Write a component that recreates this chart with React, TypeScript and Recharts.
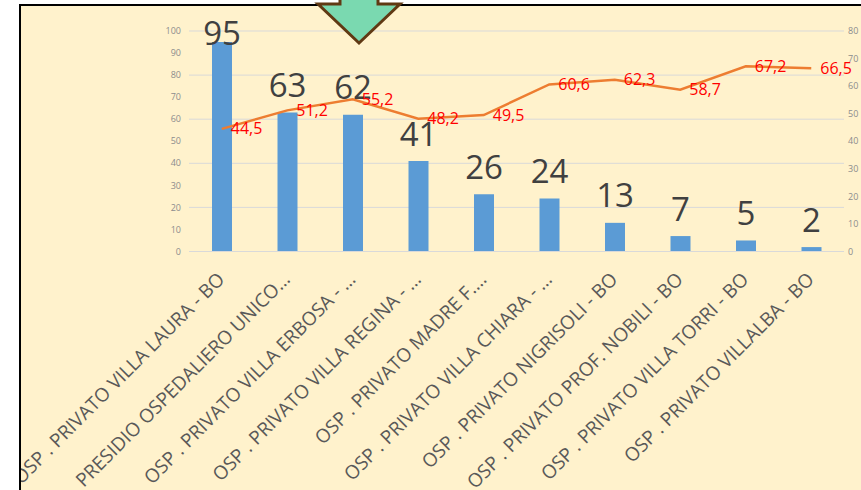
import React from 'react';
import { ComposedChart, Bar, Line, XAxis, YAxis, CartesianGrid, LabelList } from 'recharts';

const categories = [
  'OSP . PRIVATO VILLA LAURA - BO',
  'PRESIDIO OSPEDALIERO UNICO…',
  'OSP . PRIVATO VILLA ERBOSA - …',
  'OSP . PRIVATO VILLA REGINA - …',
  'OSP . PRIVATO MADRE F.…',
  'OSP . PRIVATO VILLA CHIARA - …',
  'OSP . PRIVATO NIGRISOLI - BO',
  'OSP . PRIVATO PROF. NOBILI - BO',
  'OSP . PRIVATO VILLA TORRI - BO',
  'OSP . PRIVATO VILLALBA - BO',
];
const counts = [95, 63, 62, 41, 26, 24, 13, 7, 5, 2];
const rates = [44.5, 51.2, 55.2, 48.2, 49.5, 60.6, 62.3, 58.7, 67.2, 66.5];
const leftTicks = [0, 10, 20, 30, 40, 50, 60, 70, 80, 90, 100];
const rightTicks = [0, 10, 20, 30, 40, 50, 60, 70, 80];

const data = categories.map((name, i) => ({ name, count: counts[i], rate: rates[i] }));

const FONT = '"Open Sans", sans-serif';

const CatTick = (props: any) => {
  const { x, y, payload } = props;
  return (
    <g transform={`translate(${x + 4},${y + 29})`}>
      <text textAnchor="end" transform="rotate(-45)" fill="#595959" fontSize={19} fontFamily={FONT}>
        {payload.value}
      </text>
    </g>
  );
};

const BarLabel = (props: any) => {
  const { x, y, width, value } = props;
  const by = Math.max(Number(y) - 15.5, 45);
  return (
    <text x={Number(x) + Number(width) / 2} y={by} textAnchor="middle" fontSize={33} fill="#404040" fontFamily={FONT}>
      {value}
    </text>
  );
};

const LineLabel = (props: any) => {
  const { x, y, value } = props;
  return (
    <text x={Number(x) + 9} y={Number(y) + 5.5} textAnchor="start" fontSize={16} fill="#FF0000" fontFamily={FONT}>
      {String(value).replace('.', ',')}
    </text>
  );
};

export default function App() {
  return (
    <div style={{ position: 'absolute', left: 0, top: 0, width: 861, height: 490, overflow: 'hidden', background: '#FFFFFF' }}>
      <div
        style={{
          position: 'absolute',
          left: 19,
          top: 4,
          width: 860,
          height: 500,
          background: '#FFF2CC',
          borderLeft: '2px solid #000',
          borderTop: '2px solid #000',
          overflow: 'hidden',
        }}
      >
        <div style={{ position: 'absolute', left: -21, top: -6 }}>
          <ComposedChart width={861} height={490} data={data} margin={{ top: 31, right: 0, left: 0, bottom: 0 }}>
            <CartesianGrid yAxisId="left" vertical={false} stroke="#D9D9D9" strokeWidth={1} />
            <XAxis
              dataKey="name"
              interval={0}
              height={238.5}
              tickSize={0}
              tickMargin={0}
              tick={<CatTick />}
              axisLine={{ stroke: '#D9D9D9' }}
              tickLine={false}
            />
            <YAxis
              yAxisId="left"
              width={189}
              domain={[0, 100]}
              ticks={leftTicks}
              tickSize={0}
              tickMargin={8}
              axisLine={false}
              tickLine={false}
              tick={{ fontSize: 9, fill: '#8C8C8C', fontFamily: FONT }}
            />
            <YAxis
              yAxisId="right"
              orientation="right"
              width={17}
              domain={[0, 80]}
              ticks={rightTicks}
              tickSize={0}
              tickMargin={4}
              axisLine={false}
              tickLine={false}
              tick={{ fontSize: 9, fill: '#8C8C8C', fontFamily: FONT }}
            />
            <Bar yAxisId="left" dataKey="count" fill="#5B9BD5" barSize={20} isAnimationActive={false}>
              <LabelList dataKey="count" content={<BarLabel />} />
            </Bar>
            <Line
              yAxisId="right"
              type="linear"
              dataKey="rate"
              stroke="#ED7D31"
              strokeWidth={2.5}
              dot={false}
              isAnimationActive={false}
            >
              <LabelList dataKey="rate" content={<LineLabel />} />
            </Line>
          </ComposedChart>
        </div>
      </div>
      <svg width={861} height={60} style={{ position: 'absolute', left: 0, top: 0 }}>
        <polygon
          points="340,-10 378,-10 378,4 400,4 359,43 318,4 340,4"
          fill="#7AD9B0"
          stroke="#603913"
          strokeWidth={3}
          strokeLinejoin="miter"
        />
      </svg>
    </div>
  );
}
